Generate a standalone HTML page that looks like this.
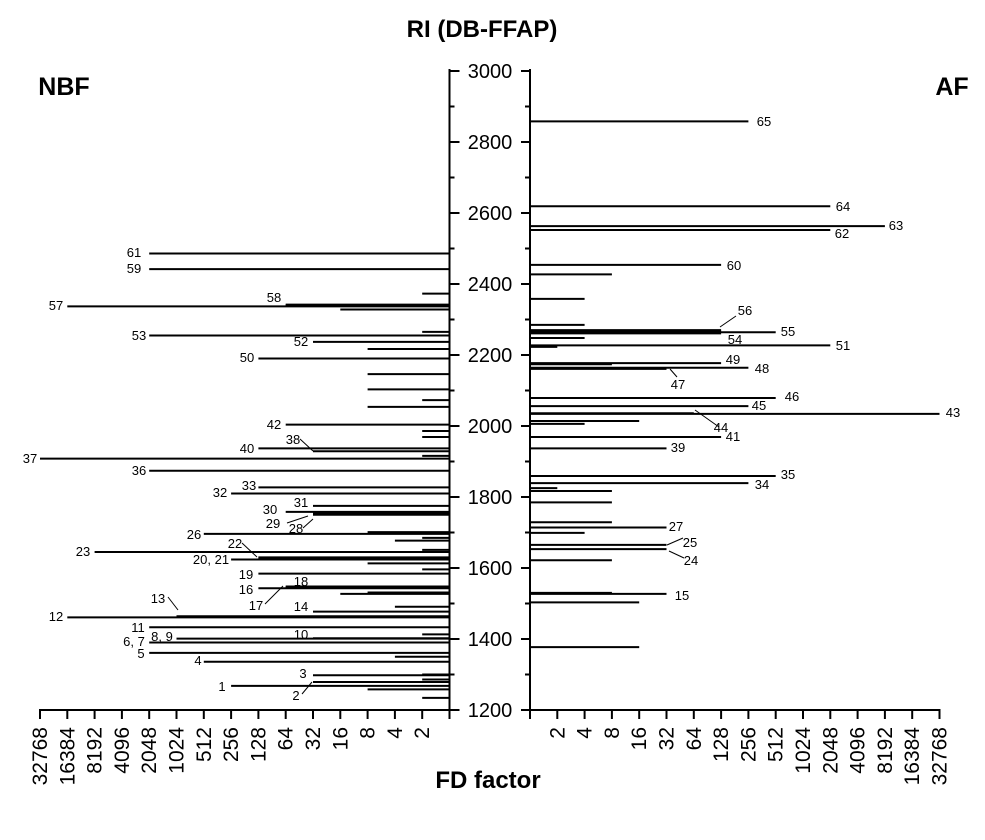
<!DOCTYPE html>
<html><head><meta charset="utf-8"><style>
body{margin:0;background:#fff;}
svg{display:block;font-family:"Liberation Sans",Arial,sans-serif;}
</style></head><body>
<svg id="chart" width="985" height="840" viewBox="0 0 985 840">
<g id="axes"></g>
<g id="bars"></g>
<g id="labels" font-size="13" fill="#000"></g>
<text x="482" y="37" font-size="24" font-weight="bold" text-anchor="middle">RI (DB-FFAP)</text>
<text x="64" y="95" font-size="25" font-weight="bold" text-anchor="middle">NBF</text>
<text x="952" y="95" font-size="25" font-weight="bold" text-anchor="middle">AF</text>
<text x="488" y="788" font-size="24" font-weight="bold" text-anchor="middle">FD factor</text>
</svg>
<script>
// NBF (left) bars: retention index and FD factor
const nbfRI = [2486,2442,2373,2337,2340,2342,2328,2265,2255,2237,2217,2190,2146,2103,2073,2054,2004,1986,1969,1937,1929,1916,1908,1874,1827,1810,1775,1758,1756,1753,1750,1757,1752,1701,1696,1685,1677,1651,1645,1630,1627,1624,1613,1596,1584,1548,1546,1543,1531,1528,1527,1491,1477,1464,1461,1433,1413,1402,1401,1390,1361,1350,1336,1300,1298,1286,1279,1268,1258,1234];
const nbfFD = [2048,2048,2,16384,64,64,16,2,2048,32,8,128,8,8,2,8,64,2,2,128,32,2,32768,2048,128,256,32,64,32,32,32,2,2,8,512,2,4,2,8192,128,128,256,8,2,128,64,64,128,8,8,16,4,32,1024,16384,2048,2,32,1024,2048,2048,4,512,2,32,2,32,256,8,2];
// AF (right) bars
const afRI = [2858,2619,2563,2552,2454,2427,2358,2285,2270,2267,2264,2261,2248,2227,2223,2177,2174,2164,2161,2079,2056,2036,2034,2014,2006,1969,1937,1859,1839,1825,1817,1785,1729,1714,1699,1665,1653,1622,1530,1527,1503,1377];
const afFD = [256,2048,8192,2048,128,8,4,4,128,128,512,128,4,2048,2,128,8,256,32,512,256,64,32768,16,4,128,32,512,256,2,8,8,8,32,4,32,32,8,8,32,16,16];
const yTicks = [1200,1400,1600,1800,2000,2200,2400,2600,2800,3000];
const fdTicks = ["2","4","8","16","32","64","128","256","512","1024","2048","4096","8192","16384","32768"];

const NS="http://www.w3.org/2000/svg";
const Y0=710, Y1=71, RI0=1200, RI1=3000;
const yS = ri => Y0 - (ri-RI0)*(Y0-Y1)/(RI1-RI0);
const STEP=27.3, LX=449.5, RX=530;
const xL = fd => LX - STEP*Math.log2(fd);
const xR = fd => RX + STEP*Math.log2(fd);
function mk(tag, attrs, parent){const e=document.createElementNS(NS,tag);for(const k in attrs)e.setAttribute(k,attrs[k]);parent.appendChild(e);return e;}
const axes=document.getElementById('axes'), bars=document.getElementById('bars'), labs=document.getElementById('labels');

let a=mk('line',{x1:LX,y1:Y1-2,x2:LX,y2:Y0+1,stroke:'#000','stroke-width':2},axes);


a=mk('line',{x1:RX,y1:Y1-2,x2:RX,y2:Y0+1,stroke:'#000','stroke-width':2},axes);


for(let v=RI0; v<=RI1; v+=100){
  const y=yS(v), major=v%200===0;
  let t=mk('line',{x1:LX,y1:y,x2:LX+(major?10:5),y2:y,stroke:'#000','stroke-width':2},axes);
  
  
  t=mk('line',{x1:RX-(major?9:5),y1:y,x2:RX,y2:y,stroke:'#000','stroke-width':2},axes);
  
  
}
yTicks.forEach(v=>{
  const t=mk('text',{x:490,y:yS(v)+7,'font-size':20,'text-anchor':'middle'},axes);
  t.textContent=v;
  
  
});
a=mk('line',{x1:xL(32768)-1,y1:Y0,x2:LX,y2:Y0,stroke:'#000','stroke-width':2},axes);


a=mk('line',{x1:RX,y1:Y0,x2:xR(32768)+1,y2:Y0,stroke:'#000','stroke-width':2},axes);


[[LX],[RX]].forEach(p=>{const t=mk('line',{x1:p[0],y1:Y0,x2:p[0],y2:Y0+9,stroke:'#000','stroke-width':2},axes);
  
  });
fdTicks.forEach(s=>{
  const v=+s;
  [xL(v),xR(v)].forEach(x=>{
    const t=mk('line',{x1:x,y1:Y0,x2:x,y2:Y0+9,stroke:'#000','stroke-width':2},axes);
    
    
    const l=mk('text',{x:0,y:0,'font-size':21,'text-anchor':'end',transform:`translate(${x+7},${Y0+17}) rotate(-90)`},axes);
    l.textContent=s;
    
    
  });
});
nbfRI.forEach((ri,i)=>{
  const y=yS(ri);
  const b=mk('line',{x1:xL(nbfFD[i]),y1:y,x2:LX,y2:y,stroke:'#000','stroke-width':2},bars);
  
  
});
afRI.forEach((ri,i)=>{
  const y=yS(ri);
  const b=mk('line',{x1:RX,y1:y,x2:xR(afFD[i]),y2:y,stroke:'#000','stroke-width':2},bars);
  
  
});
const labelText=["61","59","58","57","53","52","50","42","38","40","37","36","33","32","31","30","29","28","26","22","23","20, 21","19","18","16","17","13","14","12","11","10","8, 9","6, 7","5","4","3","1","2",
"65","64","63","62","60","56","55","54","51","49","48","47","46","45","43","44","41","39","35","34","27","25","24","15"];
const labelPos=[[134,257],[134,273],[274,302],[56,310],[139,340],[301,346],[247,362],[274,429],[293,444],[247,453],[30,463],[139,475],[249,490],[220,497],[301,507],[270,514],[273,528],[296,533],[194,539],[235,548],[83,556],[211,564],[246,579],[301,586],[246,594],[256,610],[158,603],[301,611],[56,621],[138,632],[301,639],[162,641],[134,646],[141,658],[198,665],[303,678],[222,691],[296,700],
[764,126],[843,211],[896,230],[842,238],[734,270],[745,315],[788,336],[735,344],[843,350],[733,364],[762,373],[678,389],[792,401],[759,410],[953,417],[721,432],[733,441],[678,452],[788,479],[762,489],[676,531],[690,547],[691,565],[682,600]];
labelText.forEach((s,i)=>{
  const t=mk('text',{x:labelPos[i][0],y:labelPos[i][1],'text-anchor':'middle'},labs);
  t.textContent=s;
  
  
});
const leaders=[[168,597,178,610],[265,604,283,586],[242,543,257,557],[300,439,313,451],[287,523,308,516],[303,528,313,519],[302,694,312,682],[720,327,736,316],[670,369,677,377],[695,410,719,427],[667,545,683,538],[669,551,684,558]];
leaders.forEach(l=>{
  const e=mk('line',{x1:l[0],y1:l[1],x2:l[2],y2:l[3],stroke:'#000','stroke-width':1},labs);
  
  
});
</script>
</body></html>
